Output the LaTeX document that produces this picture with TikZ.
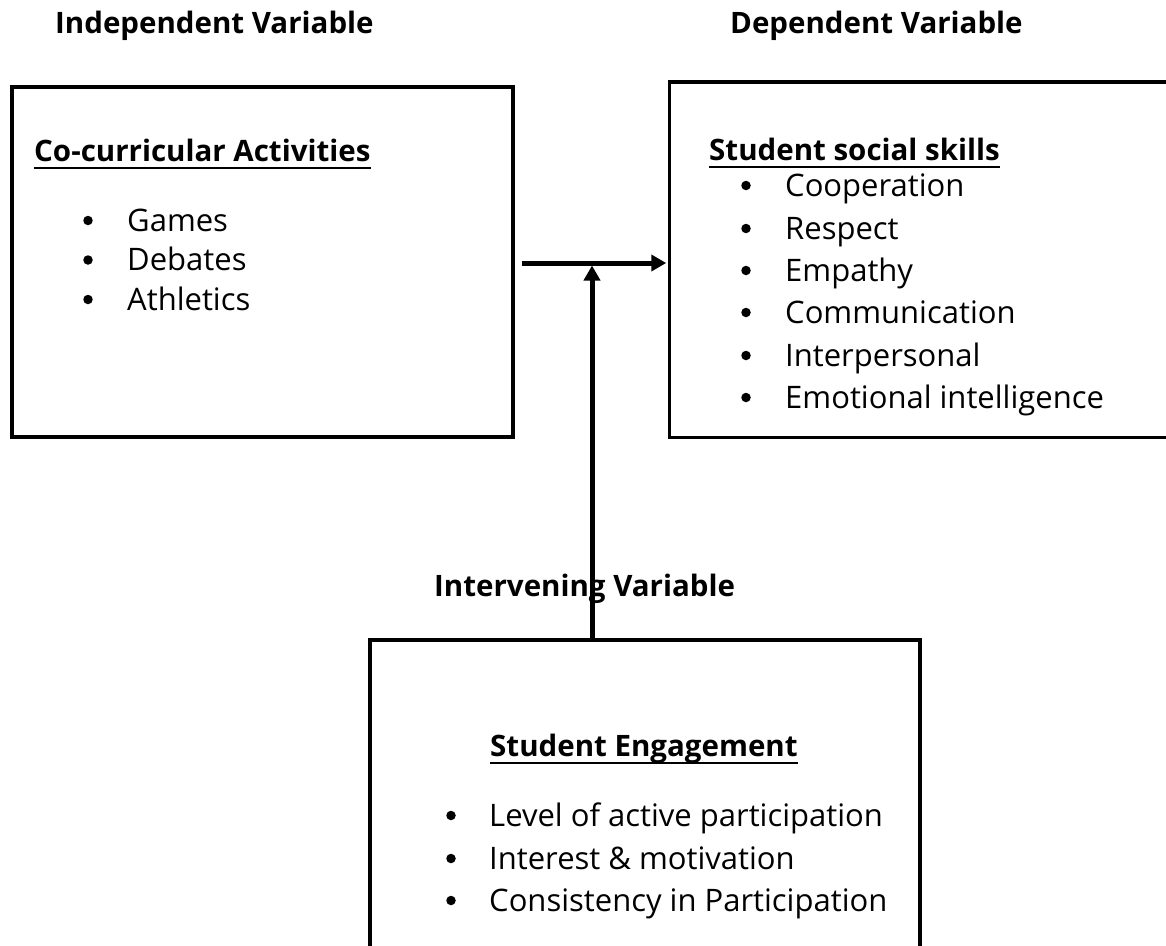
\documentclass[tikz,border=0pt]{standalone}
\usepackage{fontspec}
\setmainfont{Open Sans}
\usetikzlibrary{arrows.meta}
\begin{document}
\begin{tikzpicture}[x=1pt,y=-1pt,
  frame/.style={draw, line width=3.5pt, inner sep=0pt},
  title/.style={font=\fontsize{29.5}{34}\selectfont\bfseries, anchor=base west, inner sep=0pt},
  item/.style={font=\fontsize{31}{36}\selectfont, anchor=base west, inner sep=0pt},
  dot/.style={circle, fill, inner sep=0pt, minimum size=9.5pt},
  uline/.style={line width=2.5pt},
  link/.style={line width=5pt, -{Triangle[length=15pt,width=16pt]}}
]
\useasboundingbox (0,0) rectangle (1166,945);

% column titles
\node[title] (tiv) at (55,33) {Independent Variable};
\node[title] (tdv) at (730,33) {Dependent Variable};
\node[title] (tmv) at (434,596) {Intervening Variable};

% the three boxes
\node[frame, minimum width=501pt, minimum height=350pt] (iv) at (262.5,262) {};
\node[frame, minimum width=520pt, minimum height=355.5pt] (dv) at (929.5,259.75) {};
\node[frame, minimum width=550pt, minimum height=330pt] (mv) at (645,805) {};

% independent variable contents
\node[title] (h1) at (34,161) {Co-curricular Activities};
\draw[uline] ([yshift=-7pt]h1.base west) -- ([yshift=-7pt]h1.base east);
\foreach \t/\y [count=\i] in {Games/231, Debates/270.5, Athletics/310}{
  \node[dot] (b1\i) at (88,\y-10.5) {};
  \node[item] (i1\i) at (127,\y) {\t};
}

% dependent variable contents
\node[title] (h2) at (709,160) {Student social skills};
\draw[uline] ([yshift=-7pt]h2.base west) -- ([yshift=-7pt]h2.base east);
\foreach \t/\y [count=\i] in {Cooperation/196, Respect/239, Empathy/281,
    Communication/323, Interpersonal/366, Emotional intelligence/408}{
  \node[dot] (b2\i) at (746,\y-10.5) {};
  \node[item] (i2\i) at (785,\y) {\t};
}

% intervening variable contents
\node[title] (h3) at (490,756) {Student Engagement};
\draw[uline] ([yshift=-7pt]h3.base west) -- ([yshift=-7pt]h3.base east);
\foreach \t/\y [count=\i] in {Level of active participation/826,
    Interest \& motivation/869, Consistency in Participation/911}{
  \node[dot] (b3\i) at (451,\y-10.5) {};
  \node[item] (i3\i) at (489,\y) {\t};
}

% connectors
\coordinate (src) at (522,263);
\coordinate (join) at (592,265.5);
\draw[link, shorten >=1.5pt] (src) -- (src -| dv.west);
\draw[link] (mv.north -| join) -- (join);
\end{tikzpicture}
\end{document}
